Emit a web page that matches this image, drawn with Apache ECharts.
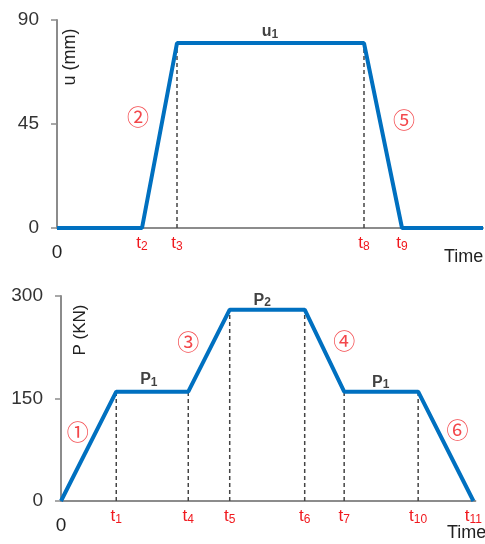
<!DOCTYPE html>
<html>
<head>
<meta charset="utf-8">
<script src="https://cdn.jsdelivr.net/npm/echarts@6/dist/echarts.min.js"></script>
<style>
  html, body { margin: 0; padding: 0; background: #fff; }
  #chart { width: 485px; height: 544px; }
</style>
</head>
<body>
<div id="chart"></div>
<script>
// top panel: displacement u
const uTime = [0, 85, 120, 307, 345, 426];
const uValue = [0, 0, 80, 80, 0, 0];
const uTicks = [0, 85, 120, 307, 345];
const uTickLabels = ['0', 't2', 't3', 't8', 't9'];
const uDrops = [120, 307];
const uYTicks = [0, 45, 90];
const uNotes = [
  { text: '②', time: 81, value: 48 },
  { text: '⑤', time: 347, value: 47 }
];
const uTitles = [{ text: 'u1', time: 213, value: 85 }];

// bottom panel: load P
const pTime = [0, 56, 129, 171, 247, 287, 362, 418];
const pValue = [0, 160, 160, 280, 280, 160, 160, 0];
const pTicks = [0, 56, 129, 171, 247, 287, 362, 418];
const pTickLabels = ['0', 't1', 't4', 't5', 't6', 't7', 't10', 't11'];
const pDrops = [56, 129, 171, 247, 287, 362];
const pYTicks = [0, 150, 300];
const pNotes = [
  { text: '①', time: 17, value: 102 },
  { text: '③', time: 129, value: 233 },
  { text: '④', time: 287, value: 234 },
  { text: '⑥', time: 402, value: 104 }
];
const pTitles = [
  { text: 'P1', time: 89, value: 177 },
  { text: 'P2', time: 204, value: 294 },
  { text: 'P1', time: 324, value: 174 }
];

const BLUE = '#0070C0';
const AXIS = '#8c8c8c';
const RED = '#f0191e';
const FONT = '"Liberation Sans", Arial, sans-serif';

function valueAt(times, values, t) {
  const i = times.indexOf(t);
  return i >= 0 ? values[i] : 0;
}

// "t10" -> {t|t}{s|10}
function tickText(ticks, labels) {
  return function (v) {
    const i = ticks.indexOf(v);
    if (i < 0) return '';
    const s = labels[i];
    if (s === '0') return '{z|0}';
    return '{t|t}{s|' + s.slice(1) + '}';
  };
}

function xAxisFor(idx, max, ticks, labels) {
  return {
    gridIndex: idx,
    type: 'value',
    min: 0,
    max: max,
    axisLine: { show: true, lineStyle: { color: AXIS, width: 2 } },
    axisTick: { show: false },
    splitLine: { show: false },
    axisLabel: {
      customValues: ticks,
      margin: 5,
      formatter: tickText(ticks, labels),
      rich: {
        t: { color: RED, fontSize: 17, fontFamily: FONT },
        s: { color: RED, fontSize: 12, fontFamily: FONT, verticalAlign: 'bottom', padding: [8, 0, 0, 0] },
        z: { color: '#222', fontSize: 19, fontFamily: FONT, padding: [10, 0, 0, 0] }
      }
    }
  };
}

function yAxisFor(idx, max, ticks) {
  return {
    gridIndex: idx,
    type: 'value',
    min: 0,
    max: max,
    interval: ticks[1] - ticks[0],
    axisLine: { show: true, lineStyle: { color: AXIS, width: 2 } },
    axisTick: { show: true, length: 6, lineStyle: { color: AXIS, width: 1.5 } },
    splitLine: { show: false },
    axisLabel: { color: '#333', fontSize: 19, fontFamily: FONT, margin: 18 }
  };
}

function dropSeries(idx, times, values, drops) {
  return drops.map(function (t) {
    return {
      type: 'line',
      xAxisIndex: idx,
      yAxisIndex: idx,
      symbol: 'none',
      silent: true,
      z: 1,
      lineStyle: { color: '#444', width: 1.5, type: [4, 3] },
      data: [[t, 0], [t, valueAt(times, values, t)]]
    };
  });
}

function noteSeries(idx, notes, titles) {
  return [{
    type: 'scatter',
    xAxisIndex: idx,
    yAxisIndex: idx,
    symbolSize: 0,
    silent: true,
    data: notes.map(function (n) { return { value: [n.time, n.value], name: n.text }; }),
    label: {
      show: true,
      position: 'inside',
      formatter: '{b}',
      color: RED,
      fontSize: 22,
      fontFamily: '"Noto Sans CJK JP", "DejaVu Sans", sans-serif'
    }
  }, {
    type: 'scatter',
    xAxisIndex: idx,
    yAxisIndex: idx,
    symbolSize: 0,
    silent: true,
    data: titles.map(function (n) { return { value: [n.time, n.value], name: n.text }; }),
    label: {
      show: true,
      position: 'inside',
      formatter: function (p) { return '{m|' + p.name.charAt(0) + '}{s|' + p.name.slice(1) + '}'; },
      rich: {
        m: { color: '#111', fontSize: 16, fontWeight: 'bold', fontFamily: FONT },
        s: { color: '#111', fontSize: 12, fontWeight: 'bold', fontFamily: FONT, verticalAlign: 'bottom', padding: [6, 0, 0, 0] }
      }
    }
  }];
}

const chart = echarts.init(document.getElementById('chart'), null, { renderer: 'canvas' });

const series = [].concat(
  dropSeries(0, uTime, uValue, uDrops),
  dropSeries(1, pTime, pValue, pDrops),
  [{
    type: 'line', xAxisIndex: 0, yAxisIndex: 0, symbol: 'none', z: 5,
    lineStyle: { color: BLUE, width: 4 },
    data: uTime.map(function (t, i) { return [t, uValue[i]]; })
  }, {
    type: 'line', xAxisIndex: 1, yAxisIndex: 1, symbol: 'none', z: 5,
    lineStyle: { color: BLUE, width: 4 },
    data: pTime.map(function (t, i) { return [t, pValue[i]]; })
  }],
  noteSeries(0, uNotes, uTitles),
  noteSeries(1, pNotes, pTitles)
);

chart.setOption({
  animation: false,
  backgroundColor: '#fff',
  grid: [
    { left: 57, top: 20, width: 426, height: 208 },
    { left: 61, top: 296, width: 420, height: 205 }
  ],
  xAxis: [
    xAxisFor(0, 426, uTicks, uTickLabels),
    xAxisFor(1, 420, pTicks, pTickLabels)
  ],
  yAxis: [
    yAxisFor(0, 90, uYTicks),
    yAxisFor(1, 300, pYTicks)
  ],
  graphic: [
    { type: 'text', x: 70, y: 57, rotation: Math.PI / 2,
      style: { text: 'u (mm)', fill: '#222', font: '18px ' + FONT, align: 'center', verticalAlign: 'middle' } },
    { type: 'text', x: 80, y: 330, rotation: Math.PI / 2,
      style: { text: 'P (KN)', fill: '#222', font: '17px ' + FONT, align: 'center', verticalAlign: 'middle' } },
    { type: 'text', x: 444, y: 257,
      style: { text: 'Time', fill: '#222', font: '18px ' + FONT, align: 'left', verticalAlign: 'middle' } },
    { type: 'text', x: 447, y: 533,
      style: { text: 'Time', fill: '#222', font: '18px ' + FONT, align: 'left', verticalAlign: 'middle' } }
  ],
  series: series
});
</script>
</body>
</html>
